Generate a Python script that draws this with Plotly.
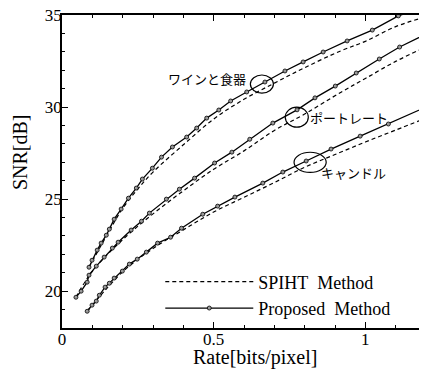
import plotly.graph_objects as go

# ---------------- data ----------------
wine_prop_x = [0.089, 0.099, 0.116, 0.129, 0.146, 0.156, 0.172, 0.195, 0.219, 0.245, 0.265,
               0.298, 0.328, 0.364, 0.411, 0.444, 0.477, 0.517, 0.556, 0.609, 0.669, 0.735,
               0.795, 0.861, 0.940, 1.023, 1.109, 1.2]
wine_prop_y = [21.30, 21.68, 22.23, 22.61, 23.04, 23.37, 23.91, 24.46, 25.05, 25.60, 26.09,
               26.68, 27.28, 27.83, 28.37, 28.86, 29.40, 29.84, 30.33, 30.82, 31.36, 31.96,
               32.45, 32.99, 33.59, 34.18, 34.95, 35.5]
wine_spiht_x = [0.089, 0.15, 0.2, 0.25, 0.3, 0.4, 0.5, 0.6, 0.7, 0.8, 0.92, 1.0, 1.1, 1.2]
wine_spiht_y = [21.3, 23.1, 24.5, 25.55, 26.47, 27.95, 29.35, 30.42, 31.3, 32.14, 33.06, 33.57, 34.37, 34.9]

port_prop_x = [0.046, 0.063, 0.083, 0.089, 0.113, 0.139, 0.166, 0.185, 0.228, 0.262, 0.288,
               0.344, 0.387, 0.437, 0.503, 0.560, 0.619, 0.695, 0.775, 0.834, 0.901, 0.970,
               1.046, 1.113, 1.2]
port_prop_y = [19.67, 20.0, 20.49, 20.87, 21.36, 21.85, 22.34, 22.66, 23.32, 23.80, 24.24,
               25.0, 25.54, 26.14, 26.96, 27.55, 28.25, 29.13, 29.85, 30.5, 31.14, 31.85,
               32.61, 33.26, 33.97]
port_spiht_x = [0.046, 0.1, 0.2, 0.3, 0.4, 0.5, 0.6, 0.7, 0.8, 0.92, 1.0, 1.1, 1.2]
port_spiht_y = [19.67, 21.08, 22.8, 24.2, 25.45, 26.62, 27.62, 28.73, 29.62, 30.81, 31.55, 32.48, 33.27]

cand_prop_x = [0.083, 0.099, 0.113, 0.123, 0.142, 0.156, 0.172, 0.199, 0.222, 0.248, 0.278,
               0.315, 0.358, 0.394, 0.464, 0.513, 0.570, 0.662, 0.728, 0.805, 0.887, 0.983,
               1.076, 1.2]
cand_prop_y = [18.91, 19.24, 19.46, 19.78, 20.22, 20.43, 20.71, 21.09, 21.47, 21.74, 22.12,
               22.61, 22.93, 23.42, 24.18, 24.62, 25.11, 25.87, 26.47, 27.07, 27.72, 28.42,
               29.08, 30.0]
cand_spiht_x = [0.083, 0.2, 0.3, 0.4, 0.5, 0.6, 0.7, 0.8, 0.9, 1.0, 1.1, 1.2]
cand_spiht_y = [18.91, 21.05, 22.32, 23.33, 24.3, 25.1, 25.9, 26.73, 27.42, 28.1, 28.75, 29.4]

x_tickvals = [0, 0.5, 1]
x_ticktext = ["0", "0.5", "1"]
y_tickvals = [20, 25, 30, 35]
y_ticktext = ["20", "25", "30", "35"]

labels = ["ワインと食器", "ポートレート", "キャンドル"]
label_pos = [(0.478, 31.55), (0.945, 29.45), (0.96, 26.45)]
ellipses = [(0.659, 31.25, 0.076, 0.98), (0.774, 29.45, 0.076, 1.09), (0.818, 27.0, 0.106, 1.09)]

SERIF = "Liberation Serif, Times New Roman, serif"
CJK = "Noto Sans CJK JP"

fig = go.Figure()

for i, (sx, sy) in enumerate([(wine_spiht_x, wine_spiht_y), (port_spiht_x, port_spiht_y),
                              (cand_spiht_x, cand_spiht_y)]):
    fig.add_trace(go.Scatter(x=sx, y=sy, mode="lines", line=dict(color="black", width=1.2, dash="4px,3px"),
                             name="SPIHT\u00a0\u00a0Method", showlegend=(i == 0), line_shape="spline"))
for i, (px, py) in enumerate([(wine_prop_x, wine_prop_y), (port_prop_x, port_prop_y),
                              (cand_prop_x, cand_prop_y)]):
    fig.add_trace(go.Scatter(x=px, y=py, mode="lines+markers", line=dict(color="black", width=1.3),
                             marker=dict(symbol="circle", size=4, color="#9a9a9a",
                                         line=dict(color="black", width=0.8)),
                             name="Proposed\u00a0\u00a0Method", showlegend=(i == 0), cliponaxis=True))

for text, (lx, ly) in zip(labels, label_pos):
    fig.add_annotation(x=lx, y=ly, text=text, showarrow=False, xref="x", yref="y",
                       font=dict(family=CJK, size=13, color="black"))

for cx, cy, w, h in ellipses:
    fig.add_shape(type="circle", xref="x", yref="y", x0=cx - w / 2, x1=cx + w / 2,
                  y0=cy - h / 2, y1=cy + h / 2, line=dict(color="black", width=1.2))

# axis titles
fig.add_annotation(text="Rate[bits/pixel]", xref="paper", yref="paper", x=0.53, y=0,
                   xanchor="center", yanchor="top", yshift=-17, showarrow=False, borderpad=0,
                   font=dict(family=SERIF, size=20, color="black"))
fig.add_annotation(text="SNR[dB]", xref="paper", yref="paper", x=0, y=0.562,
                   xanchor="center", yanchor="middle", xshift=-42, textangle=-90, showarrow=False,
                   font=dict(family=SERIF, size=20, color="black"))

axis_common = dict(showline=True, linecolor="black", linewidth=1.5, mirror="allticks",
                   ticks="inside", ticklen=6, tickcolor="black", tickwidth=1, showgrid=False,
                   zeroline=False, automargin=False, ticklabeloverflow="allow",
                   ticklabelstandoff=-5,
                   tickfont=dict(family=SERIF, size=17, color="black"))

fig.update_xaxes(range=[0, 1.2], tickvals=x_tickvals, ticktext=x_ticktext,
                 minor=dict(dtick=0.1, tick0=0, ticks="inside", ticklen=3, tickcolor="black"),
                 **axis_common)
fig.update_yaxes(range=[18, 35], tickvals=y_tickvals, ticktext=y_ticktext,
                 minor=dict(dtick=1, tick0=0, ticks="inside", ticklen=3, tickcolor="black"),
                 **axis_common)

# the page body adds an 8px margin, so the figure is 8px smaller and its margins compensate
fig.update_layout(
    width=419, height=361,
    margin=dict(l=54, r=1, t=7, b=41),
    plot_bgcolor="white", paper_bgcolor="white",
    showlegend=True,
    legend=dict(x=0.27, y=0.005, xanchor="left", yanchor="bottom", bgcolor="rgba(0,0,0,0)",
                font=dict(family=SERIF, size=18, color="black"), itemwidth=88,
                tracegroupgap=0),
)

fig.write_html("out.html")
